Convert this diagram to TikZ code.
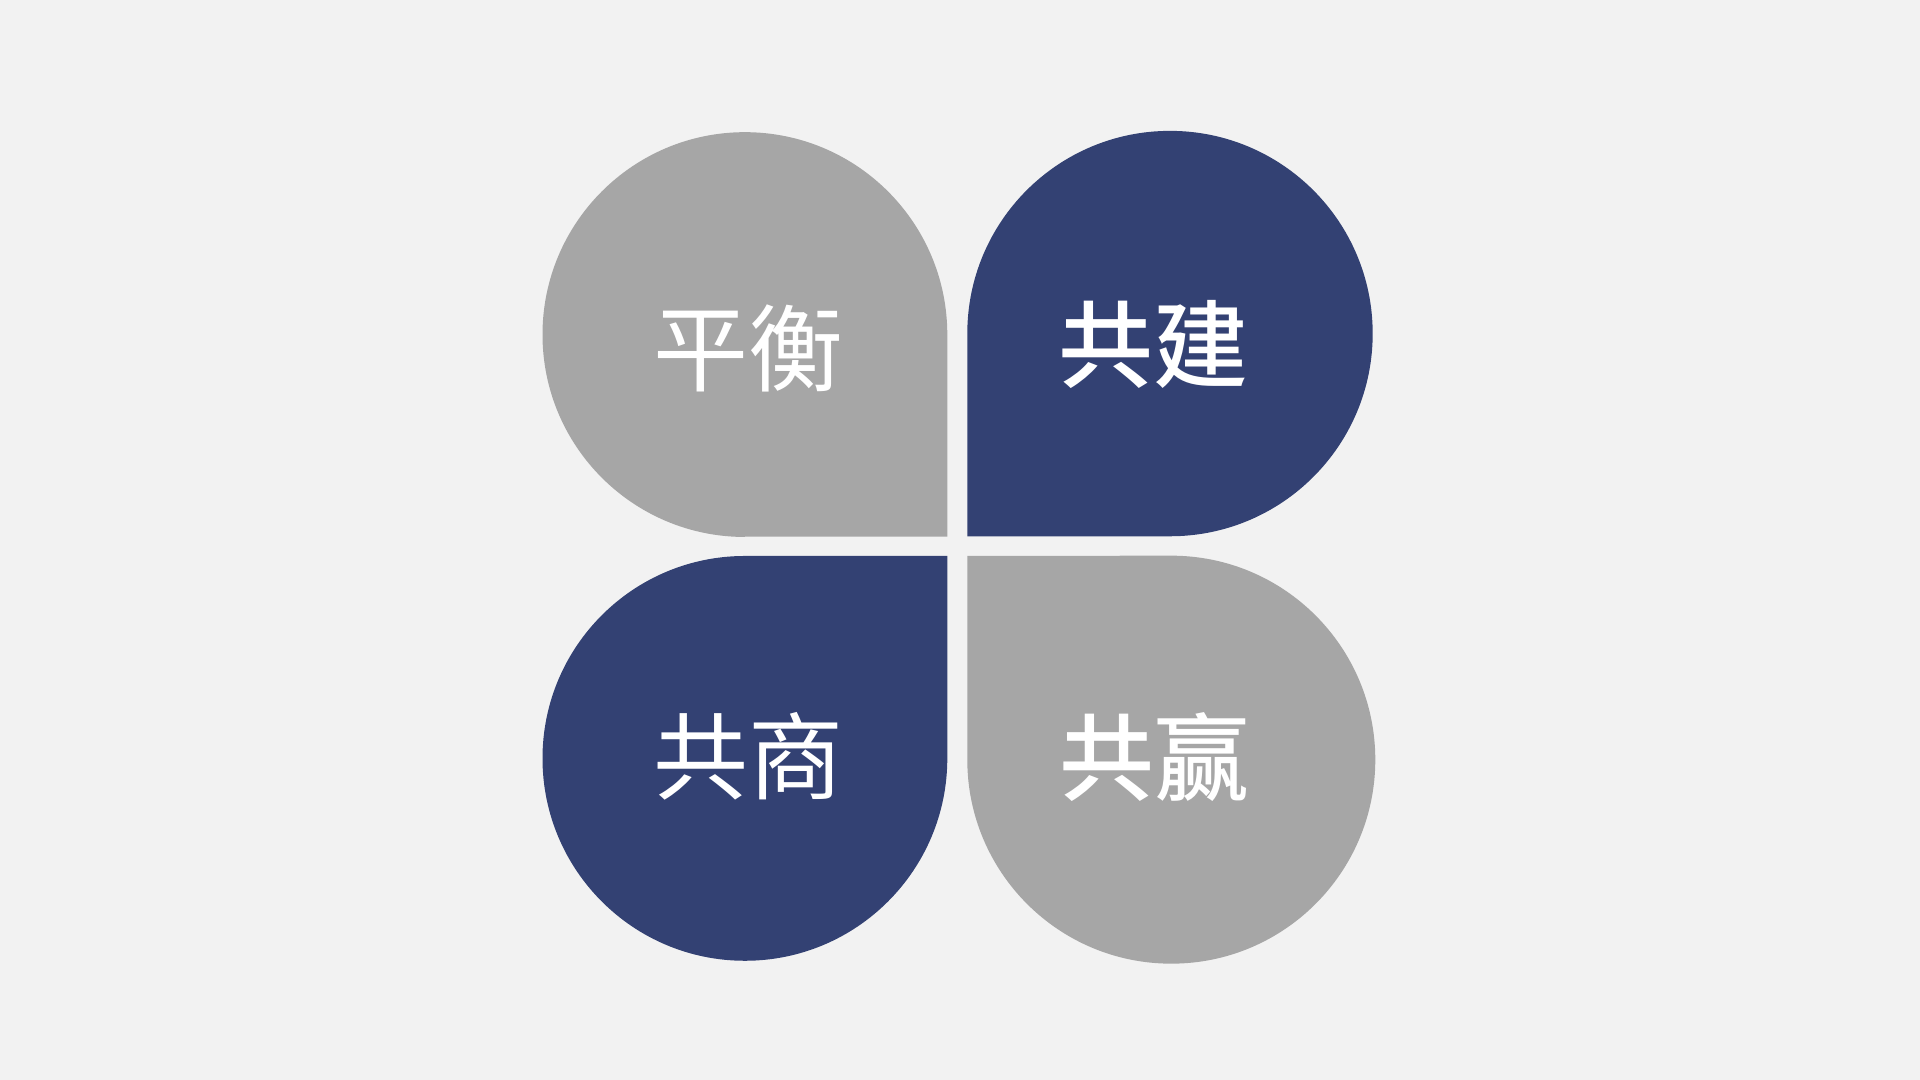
\documentclass[tikz,border=0pt]{standalone}
\usepackage{fontspec}
\newfontfamily\cjkreg{Noto Sans CJK SC}
\newfontfamily\cjkbold{Noto Sans CJK SC Medium}
\definecolor{bgc}{HTML}{F2F2F2}
\definecolor{grayc}{HTML}{A6A6A6}
\definecolor{navyc}{HTML}{334173}
\begin{document}
\begin{tikzpicture}[x=0.01cm,y=0.01cm,
  leaf/.style={draw=none},
  lbl/.style={text=white,inner sep=0pt,font=\fontsize{27pt}{32pt}\selectfont},
]
\fill[bgc] (0,0) rectangle (1920,1080);
\useasboundingbox (0,0) rectangle (1920,1080);
% top-left (gray), square corner bottom-right
\fill[grayc,leaf] (744.9,543.3) -- (947.3,543.3) -- (947.3,745.4)
  arc[start angle=0,end angle=270,radius=202.4] -- cycle;
% top-right (navy), square corner bottom-left
\fill[navyc,leaf] (967.3,543.7) -- (1170,543.7)
  arc[start angle=-90,end angle=180,radius=202.7] -- cycle;
% bottom-left (navy), square corner top-right
\fill[navyc,leaf] (947.3,524) -- (744.9,524)
  arc[start angle=90,end angle=360,radius=202.4] -- cycle;
% bottom-right (gray), square corner top-left
\fill[grayc,leaf] (967.3,524) -- (967.3,320.3)
  arc[start angle=180,end angle=450,radius=204] -- cycle;
\node[lbl] (pingheng) at (748,732) {\cjkreg 平衡};
\node[lbl] (gongjian) at (1153,736) {\cjkbold 共建};
\node[lbl] (gongshang) at (748.3,324) {\cjkreg 共商};
\node[lbl] (gongying) at (1154,323) {\cjkbold 共赢};
\end{tikzpicture}
\end{document}
